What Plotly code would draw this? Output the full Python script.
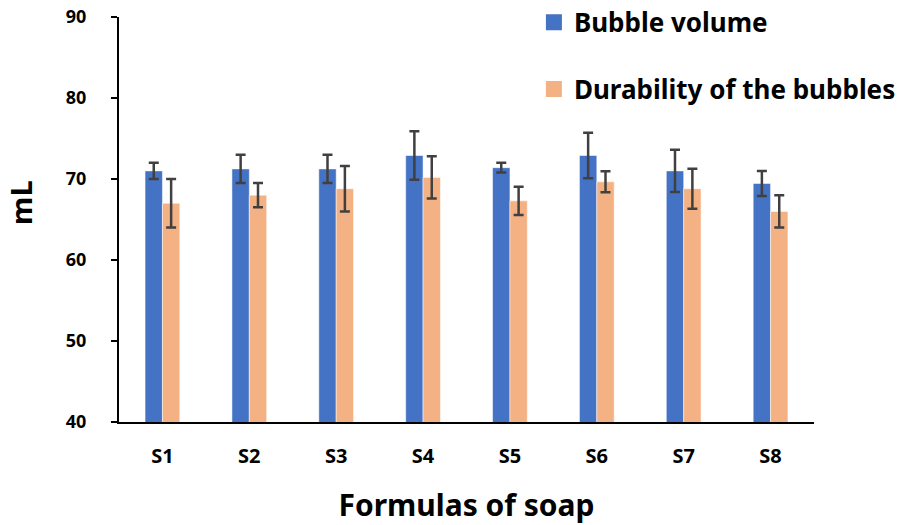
import plotly.graph_objects as go

categories = ["S1", "S2", "S3", "S4", "S5", "S6", "S7", "S8"]
bubble_volume = [71.0, 71.25, 71.25, 72.9, 71.4, 72.9, 71.0, 69.45]
bubble_volume_err = [1.0, 1.75, 1.75, 3.0, 0.6, 2.8, 2.6, 1.55]
durability = [67.0, 68.0, 68.8, 70.2, 67.3, 69.65, 68.8, 66.0]
durability_err = [3.0, 1.5, 2.8, 2.6, 1.75, 1.3, 2.47, 2.0]
y_ticks = [40, 50, 60, 70, 80, 90]

BLUE = "#4472C4"
ORANGE = "#F4B183"
ERR = "#404040"
FONT = "Noto Sans"
Y_RANGE = [40, 90]

fig = go.Figure()
fig.add_trace(go.Bar(
    x=categories, y=bubble_volume, name="Bubble volume",
    marker=dict(color=BLUE, line=dict(color="rgba(255,255,255,0.5)", width=1)),
    error_y=dict(type="data", array=bubble_volume_err, visible=True,
                 color=ERR, thickness=2.5, width=5),
    showlegend=False,
))
fig.add_trace(go.Bar(
    x=categories, y=durability, name="Durability of the bubbles",
    marker=dict(color=ORANGE, line=dict(color="rgba(255,255,255,0.5)", width=1)),
    error_y=dict(type="data", array=durability_err, visible=True,
                 color=ERR, thickness=2.5, width=5),
    showlegend=False,
))
# legend entries with larger square symbols (on the overlay axis that draws the short ticks)
fig.add_trace(go.Scatter(x=[None], y=[None], mode="markers", name="Bubble volume",
                         marker=dict(symbol="square", size=20, color=BLUE),
                         legendgroup="a", yaxis="y2"))
fig.add_trace(go.Scatter(x=[None], y=[None], mode="markers", name="Durability of the bubbles",
                         marker=dict(symbol="square", size=20, color=ORANGE),
                         legendgroup="b", yaxis="y2"))

fig.update_layout(
    width=900, height=517,
    margin=dict(l=111, r=94, t=9, b=103, autoexpand=False),
    paper_bgcolor="white", plot_bgcolor="white",
    barmode="group", bargap=0.6, bargroupgap=0,
    font=dict(family=FONT, color="black"),
    legend=dict(x=0.597, y=1.045, xanchor="left", yanchor="top",
                font=dict(size=26, family=FONT, color="black", weight="bold"),
                tracegroupgap=30, bgcolor="rgba(0,0,0,0)"),
    xaxis=dict(
        showline=True, linecolor="black", linewidth=2,
        ticks="", showgrid=False, ticklabelstandoff=15,
        tickfont=dict(size=20, family=FONT, weight="bold"),
        title=dict(text="Formulas of soap", font=dict(size=30, family=FONT, weight="bold"), standoff=30),
    ),
    # main y axis: carries labels, pushed away from the axis by an invisible long tick
    yaxis=dict(
        range=Y_RANGE, tickvals=y_ticks,
        showline=False,
        ticks="outside", ticklen=28, tickwidth=2, tickcolor="rgba(0,0,0,0)",
        showgrid=False, zeroline=False, ticklabeloverflow="allow",
        tickfont=dict(size=18, family=FONT, weight="bold"),
    ),
    # overlay y axis: draws the axis line and the short visible ticks
    yaxis2=dict(
        range=Y_RANGE, tickvals=y_ticks, overlaying="y", side="left",
        showline=True, linecolor="black", linewidth=2,
        ticks="outside", ticklen=6, tickwidth=2, tickcolor="black",
        showticklabels=False, showgrid=False, zeroline=False,
    ),
    annotations=[dict(
        text="mL", textangle=-90, showarrow=False,
        xref="paper", yref="paper", x=-0.141, y=0.541,
        xanchor="center", yanchor="middle",
        font=dict(size=29, family=FONT, color="black", weight="bold"),
    )],
)

fig.write_html("out.html")
